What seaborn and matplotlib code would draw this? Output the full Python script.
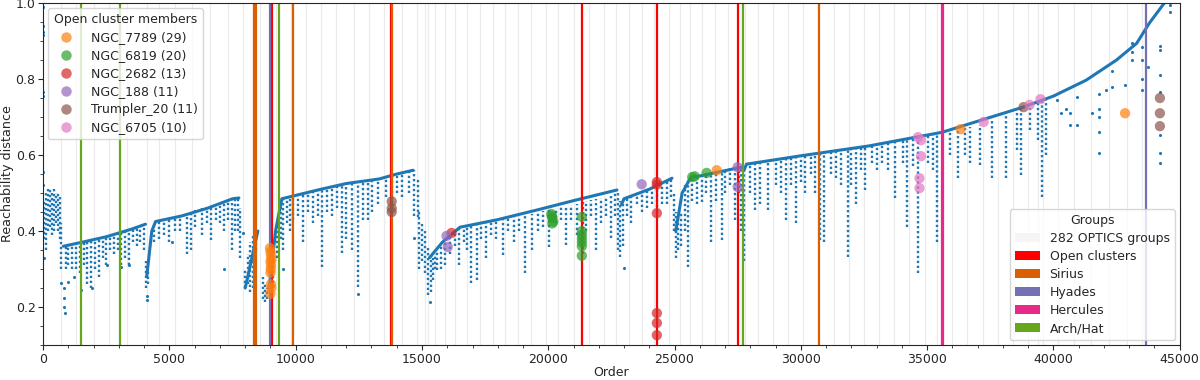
import numpy as np
import pandas as pd
import matplotlib
matplotlib.use("Agg")
import matplotlib.pyplot as plt
from matplotlib.patches import Patch
from matplotlib.lines import Line2D
import seaborn as sns

# ---------------- data ----------------
# upper envelopes of the reachability plot: (segment id, order, reach)
ridge_seg = [1]*5 + [2]*7 + [3]*3 + [4]*8 + [5]*7 + [6]*4 + [7]*5 + [8]*12
ridge_order = [800, 1500, 2500, 3500, 4050,
               4100, 4300, 4450, 5500, 6500, 7500, 7750,
               8000, 8300, 8500,
               8950, 9200, 9450, 11000, 12000, 13300, 14000, 14650,
               15300, 15800, 16500, 18000, 19650, 21000, 22720,
               22900, 23000, 24000, 24900,
               25050, 25300, 25650, 26000, 27650,
               27750, 27850, 30000, 32700, 35600, 38800, 40000, 41300, 42500, 43300, 43800, 44450]
ridge_reach = [0.36, 0.37, 0.385, 0.405, 0.418,
               0.28, 0.40, 0.425, 0.44, 0.46, 0.485, 0.487,
               0.25, 0.34, 0.40,
               0.25, 0.40, 0.485, 0.51, 0.525, 0.537, 0.55, 0.56,
               0.33, 0.37, 0.41, 0.43, 0.457, 0.48, 0.508,
               0.47, 0.485, 0.51, 0.539,
               0.40, 0.50, 0.542, 0.545, 0.568,
               0.56, 0.576, 0.598, 0.624, 0.66, 0.726, 0.755, 0.797, 0.85, 0.894, 0.947, 1.005]

# dense vertical streaks of points below the envelopes: order, top, bottom
streak_order = [30, 100, 180, 260, 340, 420, 500, 580, 650, 720,
                900, 1000, 1150, 1300, 1450, 1600, 1750, 1900, 2050, 2200, 2350, 2500, 2650,
                2800, 2950, 3100, 3250, 3400, 3550, 3700, 3850, 3980,
                4080, 4150,
                4400, 4600, 4800, 5000, 5200, 5400, 5680, 5840, 6000, 6280, 6500, 6650, 6850,
                7000, 7140, 7300, 7460, 7600, 7700, 7800,
                8000, 8100, 8200, 8320, 8420, 8700, 8800, 8880,
                9000, 9100, 9250, 9400, 9500, 9650, 9780, 9910, 10100, 10300, 10500, 10700,
                10900, 11050, 11250, 11450, 11650, 11830, 12000, 12230, 12470, 12650, 12860,
                13020, 13250, 13570, 13800, 14000, 14200, 14500, 14700, 14840,
                14900, 15000, 15100, 15230, 15350, 15420,
                15500, 15600, 15750, 15900, 16100, 16300, 16450, 16650, 16800, 16960, 17160,
                17350, 17550, 17750, 17950, 18190, 18400, 18660, 18850, 19060, 19370, 19600,
                19800, 20040, 20300, 20500, 20710, 20900, 21150, 21380, 21500, 21700, 21900,
                22100, 22300, 22490, 22650, 22750, 22850, 22950,
                23100, 23280, 23510, 23700, 23900, 24100, 24300, 24500, 24700, 24870,
                24970, 25050, 25150, 25250,
                25400, 25550, 25700, 25900, 26080, 26250, 26430, 26650, 26860, 27000, 27200,
                27380, 27550, 27650, 27760,
                28000, 28200, 28400, 28720, 29000, 29200, 29430, 29620, 29820, 30000, 30180,
                30400, 30550, 30770, 30900, 31200, 31400, 31600, 31870, 32000, 32200, 32400,
                32540, 32800, 33000, 33200, 33450, 33730, 34050, 34200, 34440, 34640, 35030,
                35230, 35400, 35900, 36220, 36500, 36700, 37080, 37560, 38110, 38580, 38700,
                39060, 39410, 39570, 39690]
streak_top = [0.48, 0.50, 0.51, 0.51, 0.505, 0.51, 0.50, 0.50, 0.49, 0.42,
              0.36, 0.362, 0.365, 0.366, 0.368, 0.37, 0.372, 0.375, 0.377, 0.38, 0.382, 0.385, 0.388,
              0.391, 0.394, 0.397, 0.40, 0.403, 0.406, 0.41, 0.413, 0.416,
              0.32, 0.30,
              0.42, 0.428, 0.432, 0.436, 0.44, 0.443, 0.447, 0.45, 0.455, 0.46, 0.463, 0.466, 0.47,
              0.473, 0.476, 0.479, 0.482, 0.485, 0.486, 0.46,
              0.30, 0.34, 0.37, 0.39, 0.40, 0.28, 0.26, 0.25,
              0.30, 0.37, 0.42, 0.48, 0.487, 0.489, 0.491, 0.493, 0.495, 0.498, 0.50, 0.504,
              0.508, 0.51, 0.513, 0.516, 0.519, 0.522, 0.525, 0.527, 0.53, 0.532, 0.534,
              0.536, 0.54, 0.545, 0.548, 0.551, 0.554, 0.558, 0.56, 0.54,
              0.45, 0.42, 0.40, 0.36, 0.34, 0.33,
              0.34, 0.35, 0.36, 0.375, 0.39, 0.40, 0.408, 0.412, 0.415, 0.417, 0.42,
              0.422, 0.424, 0.426, 0.428, 0.431, 0.434, 0.437, 0.44, 0.442, 0.446, 0.45,
              0.453, 0.456, 0.46, 0.463, 0.466, 0.469, 0.472, 0.476, 0.478, 0.481, 0.484,
              0.487, 0.49, 0.495, 0.505, 0.50, 0.48, 0.48,
              0.49, 0.495, 0.50, 0.505, 0.51, 0.515, 0.52, 0.525, 0.53, 0.537,
              0.50, 0.45, 0.42, 0.45,
              0.52, 0.54, 0.542, 0.544, 0.547, 0.55, 0.553, 0.556, 0.559, 0.562, 0.565,
              0.567, 0.568, 0.566, 0.56,
              0.576, 0.578, 0.58, 0.583, 0.586, 0.588, 0.59, 0.592, 0.595, 0.597, 0.599,
              0.601, 0.603, 0.605, 0.606, 0.609, 0.611, 0.613, 0.616, 0.617, 0.619, 0.621,
              0.622, 0.625, 0.627, 0.63, 0.633, 0.636, 0.64, 0.642, 0.645, 0.647, 0.652,
              0.655, 0.657, 0.664, 0.668, 0.672, 0.675, 0.68, 0.69, 0.705, 0.715, 0.72,
              0.732, 0.74, 0.745, 0.748]
streak_bottom = [0.38, 0.35, 0.40, 0.41, 0.39, 0.40, 0.42, 0.40, 0.38, 0.30,
                 0.30, 0.31, 0.30, 0.30, 0.29, 0.31, 0.26, 0.25, 0.30, 0.28, 0.33, 0.31, 0.35,
                 0.34, 0.35, 0.31, 0.33, 0.31, 0.37, 0.36, 0.37, 0.35,
                 0.25, 0.26,
                 0.37, 0.38, 0.39, 0.37, 0.40, 0.40, 0.34, 0.35, 0.41, 0.39, 0.42, 0.376, 0.43,
                 0.42, 0.40, 0.43, 0.35, 0.40, 0.40, 0.33,
                 0.25, 0.26, 0.24, 0.25, 0.35, 0.22, 0.213, 0.22,
                 0.23, 0.25, 0.33, 0.38, 0.35, 0.42, 0.40, 0.43, 0.44, 0.37, 0.45, 0.42,
                 0.44, 0.305, 0.45, 0.44, 0.46, 0.342, 0.38, 0.35, 0.253, 0.43, 0.43,
                 0.45, 0.47, 0.49, 0.46, 0.50, 0.49, 0.50, 0.44, 0.437,
                 0.30, 0.32, 0.29, 0.232, 0.24, 0.27,
                 0.30, 0.298, 0.30, 0.31, 0.34, 0.36, 0.31, 0.37, 0.35, 0.263, 0.27,
                 0.38, 0.33, 0.39, 0.38, 0.337, 0.40, 0.37, 0.40, 0.29, 0.35, 0.40,
                 0.41, 0.358, 0.42, 0.43, 0.363, 0.43, 0.39, 0.34, 0.40, 0.44, 0.35,
                 0.42, 0.44, 0.382, 0.44, 0.35, 0.332, 0.36,
                 0.44, 0.42, 0.47, 0.45, 0.46, 0.47, 0.45, 0.47, 0.47, 0.49,
                 0.40, 0.33, 0.35, 0.36,
                 0.40, 0.305, 0.48, 0.47, 0.476, 0.50, 0.371, 0.48, 0.376, 0.50, 0.52,
                 0.43, 0.50, 0.40, 0.32,
                 0.50, 0.455, 0.47, 0.455, 0.52, 0.50, 0.429, 0.52, 0.42, 0.53, 0.50,
                 0.55, 0.50, 0.376, 0.37, 0.55, 0.54, 0.52, 0.332, 0.52, 0.47, 0.56,
                 0.508, 0.58, 0.56, 0.58, 0.56, 0.487, 0.58, 0.41, 0.57, 0.29, 0.58,
                 0.56, 0.37, 0.60, 0.54, 0.60, 0.58, 0.574, 0.54, 0.54, 0.613, 0.547,
                 0.666, 0.64, 0.49, 0.60]

# isolated reachability points
iso_order = [0, 0, 0, 0, 0, 0, 0, 0, 30, 700, 830, 830, 830, 850, 1000, 1500, 1930, 1200,
             2520, 3080, 3380, 4100, 4100, 5090, 7140, 7900, 9500, 12470, 14700, 15300, 23000,
             40160, 40300, 40500, 40670, 40670, 40950, 40950, 41540, 41820, 41820, 41820,
             41820, 41820, 42080, 42330, 42330, 42840, 43120, 43120, 43120, 43510, 43510,
             43510, 43510, 43750, 44220, 44220, 44220, 44220, 44220, 44220, 44220, 44620, 44620]
iso_reach = [0.99, 0.94, 0.925, 0.915, 0.765, 0.755, 0.555, 0.52, 0.33, 0.263, 0.25, 0.225, 0.20,
             0.185, 0.266, 0.244, 0.25, 0.28, 0.31, 0.305, 0.31, 0.23, 0.218, 0.37, 0.30, 0.395,
             0.30, 0.235, 0.382, 0.213, 0.303,
             0.745, 0.71, 0.72, 0.71, 0.679, 0.753, 0.679, 0.71, 0.76, 0.72, 0.70,
             0.66, 0.605, 0.77, 0.82, 0.78, 0.785, 0.895, 0.87, 0.85, 0.884, 0.85,
             0.80, 0.771, 0.833, 0.886, 0.877, 0.81, 0.767, 0.653, 0.605, 0.579, 0.995, 0.976]

# open-cluster members
clusters = ["NGC_7789 (29)", "NGC_6819 (20)", "NGC_2682 (13)", "NGC_188 (11)",
            "Trumpler_20 (11)", "NGC_6705 (10)"]
ngc7789_order = [8980, 9000, 9020, 9040, 9000, 9020, 9010, 9000, 9020, 9030, 9000, 26670, 36330, 42840]
ngc7789_reach = [0.355, 0.345, 0.335, 0.325, 0.32, 0.31, 0.30, 0.29, 0.26, 0.25, 0.235, 0.56, 0.668, 0.71]
ngc6819_order = [20120, 20160, 20200, 20160, 20140, 21330, 21330, 21330, 21330, 21330, 21330,
                 21330, 25700, 25800, 26270]
ngc6819_reach = [0.445, 0.435, 0.425, 0.42, 0.44, 0.437, 0.40, 0.39, 0.38, 0.37, 0.36, 0.335,
                 0.542, 0.544, 0.553]
ngc2682_order = [16170, 24300, 24300, 24300, 24300, 24300, 24300]
ngc2682_reach = [0.395, 0.529, 0.522, 0.447, 0.184, 0.158, 0.126]
ngc188_order = [15970, 16020, 23700, 27500, 27500]
ngc188_reach = [0.387, 0.358, 0.523, 0.568, 0.516]
trumpler20_order = [13800, 13800, 13800, 38820, 44220, 44220, 44220]
trumpler20_reach = [0.478, 0.46, 0.45, 0.726, 0.75, 0.71, 0.676]
ngc6705_order = [34640, 34760, 34760, 34700, 34700, 37240, 39060, 39490]
ngc6705_reach = [0.647, 0.639, 0.597, 0.539, 0.513, 0.687, 0.732, 0.747]

# known groups (vertical lines)
group_names = ["Open clusters", "Sirius", "Hyades", "Hercules", "Arch/Hat"]
open_cluster_lines = [9070, 13790, 21330, 24290, 27510]
sirius_lines = [8340, 8440, 9910, 13820, 30740]
hyades_lines = [9000, 43650]
hercules_lines = [35580, 35640]
archhat_lines = [1500, 3040, 9320, 27700]

# OPTICS group boundaries (faint background)
optics_bounds = [700, 1300, 2000, 2600, 3300, 4100, 4600, 5200, 5900, 6600, 7300, 7900,
                 8600, 9200, 9800, 10400, 11000, 11600, 12300, 12900, 13500, 14200,
                 14800, 15100, 15250, 15500, 15900, 16300, 16800, 17300, 17800, 18300,
                 18800, 19300, 19900, 20400, 21000, 21600, 22200, 22700, 23200, 23700,
                 24200, 24800, 25200, 25600, 26100, 26600, 27100, 27800, 28300, 28900,
                 29500, 30100, 30700, 31300, 31900, 32500, 33100, 33700, 34300, 34900,
                 35400, 36000, 36600, 37200, 37800, 38400, 39000, 39400, 39600, 40200,
                 40800, 41500, 42200, 42900, 43500]
n_optics_groups = 282

# ---------------- plotting ----------------
sns.set_style("ticks")
plt.rcParams["font.family"] = ["DejaVu Sans"]
plt.rcParams["xtick.direction"] = "out"
plt.rcParams["ytick.direction"] = "out"

FS = 9

fig, ax = plt.subplots(figsize=(12, 3.8), dpi=100)
fig.subplots_adjust(left=0.036, right=0.983, top=0.992, bottom=0.092)

blue = "#1f77b4"
for b in optics_bounds:
    ax.axvline(b, color="0.92", lw=0.8, zorder=0)

# streaks
ax.vlines(streak_order, streak_bottom, streak_top, colors=blue, lw=1.7,
          linestyles=(0, (1, 1.1)), zorder=1)

ridges = pd.DataFrame({"seg": ridge_seg, "order": ridge_order, "reach": ridge_reach})
sns.lineplot(data=ridges, x="order", y="reach", units="seg", estimator=None, sort=False,
             color=blue, lw=2.2, ax=ax, zorder=1.2)

iso = pd.DataFrame({"order": iso_order, "reach": iso_reach})
sns.scatterplot(data=iso, x="order", y="reach", color=blue, s=5, linewidth=0, ax=ax, zorder=1.2)

group_colors = {"Open clusters": "#ff0000", "Sirius": "#d95f02", "Hyades": "#7570b3",
                "Hercules": "#e7298a", "Arch/Hat": "#66a61e"}
for name, lines in zip(group_names, [open_cluster_lines, sirius_lines, hyades_lines,
                                     hercules_lines, archhat_lines]):
    for x in lines:
        ax.axvline(x, color=group_colors[name], lw=1.6, zorder=2)

member_colors = ["#ff7f0e", "#2ca02c", "#d62728", "#9467bd", "#8c564b", "#e377c2"]
members = pd.concat([
    pd.DataFrame({"order": o, "reach": r, "cluster": c})
    for o, r, c in zip(
        [ngc7789_order, ngc6819_order, ngc2682_order, ngc188_order, trumpler20_order, ngc6705_order],
        [ngc7789_reach, ngc6819_reach, ngc2682_reach, ngc188_reach, trumpler20_reach, ngc6705_reach],
        clusters)
], ignore_index=True)
sns.scatterplot(data=members, x="order", y="reach", hue="cluster", hue_order=clusters,
                palette=member_colors, s=55, alpha=0.7, linewidth=0, ax=ax, zorder=3,
                legend=False)

ax.set_xlim(0, 45000)
ax.set_ylim(0.1, 1.0)
ax.set_xticks(np.arange(0, 45001, 5000))
ax.set_yticks([0.2, 0.4, 0.6, 0.8, 1.0])
ax.minorticks_on()
ax.set_xlabel("Order", fontsize=FS, labelpad=0)
ax.set_ylabel("Reachability distance", fontsize=9.2, labelpad=1)
ax.tick_params(labelsize=FS, pad=2)
for sp in ax.spines.values():
    sp.set_visible(True)
    sp.set_linewidth(0.8)

h1 = [Line2D([], [], marker="o", ls="", color=c, alpha=0.7, markersize=7.5, markeredgewidth=0)
      for c in member_colors]
leg1 = ax.legend(h1, clusters, title="Open cluster members", loc="upper left",
                 fontsize=FS, title_fontsize=FS, borderaxespad=0.4, handletextpad=1.0,
                 labelspacing=0.4)
ax.add_artist(leg1)

h2 = [Patch(facecolor="whitesmoke", edgecolor="none")] + \
     [Patch(facecolor=group_colors[n], edgecolor="none") for n in group_names]
l2 = [f"{n_optics_groups} OPTICS groups"] + group_names
ax.legend(h2, l2, title="Groups", loc="lower right", fontsize=FS, title_fontsize=FS,
          borderaxespad=0.4, labelspacing=0.4)

fig.savefig("out.png", dpi=100)
